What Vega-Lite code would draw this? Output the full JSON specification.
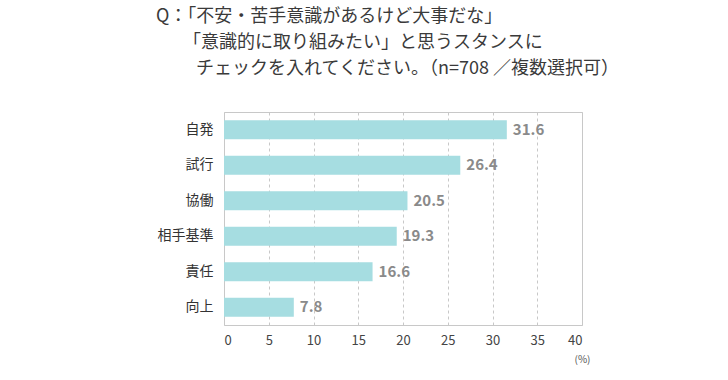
{
  "$schema": "https://vega.github.io/schema/vega-lite/v6.json",
  "autosize": {"type": "none"},
  "padding": {"left": 224, "top": 112, "right": 146, "bottom": 55},
  "width": 358,
  "height": 213,
  "background": "white",
  "title": {
    "text": ["Q：「不安・苦手意識があるけど大事だな」", "\u200b　　「意識的に取り組みたい」と思うスタンスに", "\u200b　　 チェックを入れてください。（n=708 ／複数選択可）"],
    "anchor": "start",
    "frame": "group",
    "dx": -68,
    "offset": 34,
    "font": "Noto Sans CJK JP",
    "fontSize": 18,
    "fontWeight": "normal",
    "color": "#3a3a3a",
    "lineHeight": 26
  },
  "data": {
    "values": [
      {"item": "自発", "value": 31.6},
      {"item": "試行", "value": 26.4},
      {"item": "協働", "value": 20.5},
      {"item": "相手基準", "value": 19.3},
      {"item": "責任", "value": 16.6},
      {"item": "向上", "value": 7.8}
    ]
  },
  "config": {
    "view": {"stroke": "#c8c8c8", "strokeWidth": 1},
    "font": "Noto Sans CJK JP"
  },
  "encoding": {
    "y": {
      "field": "item",
      "type": "nominal",
      "sort": null,
      "scale": {"paddingInner": 0.46, "paddingOuter": 0.23},
      "axis": {
        "title": null,
        "ticks": false,
        "domain": false,
        "labelPadding": 11,
        "labelFontSize": 14,
        "labelColor": "#333333",
        "labelFont": "Noto Sans CJK JP"
      }
    },
    "x": {
      "field": "value",
      "type": "quantitative",
      "scale": {"domain": [0, 40], "nice": false},
      "axis": {
        "values": [0, 5, 10, 15, 20, 25, 30, 35, 40],
        "title": "(%)",
        "titleX": 358,
        "titleY": 34,
        "titleAlign": "center",
        "titleBaseline": "middle",
        "titleFontSize": 10,
        "titleFontWeight": "normal",
        "titleColor": "#555555",
        "ticks": false,
        "domain": false,
        "labelPadding": 9,
        "labelFontSize": 13,
        "labelColor": "#444444",
        "gridColor": "#c8c8c8",
        "gridDash": [3, 3],
        "gridWidth": 1
      }
    }
  },
  "layer": [
    {"mark": {"type": "bar", "color": "#a6dde1"}},
    {
      "mark": {"type": "text", "align": "left", "dx": 6, "fontSize": 15, "fontWeight": "bold", "color": "#8a8a8a", "baseline": "middle"},
      "encoding": {"text": {"field": "value", "type": "quantitative", "format": ".1f"}}
    }
  ]
}
